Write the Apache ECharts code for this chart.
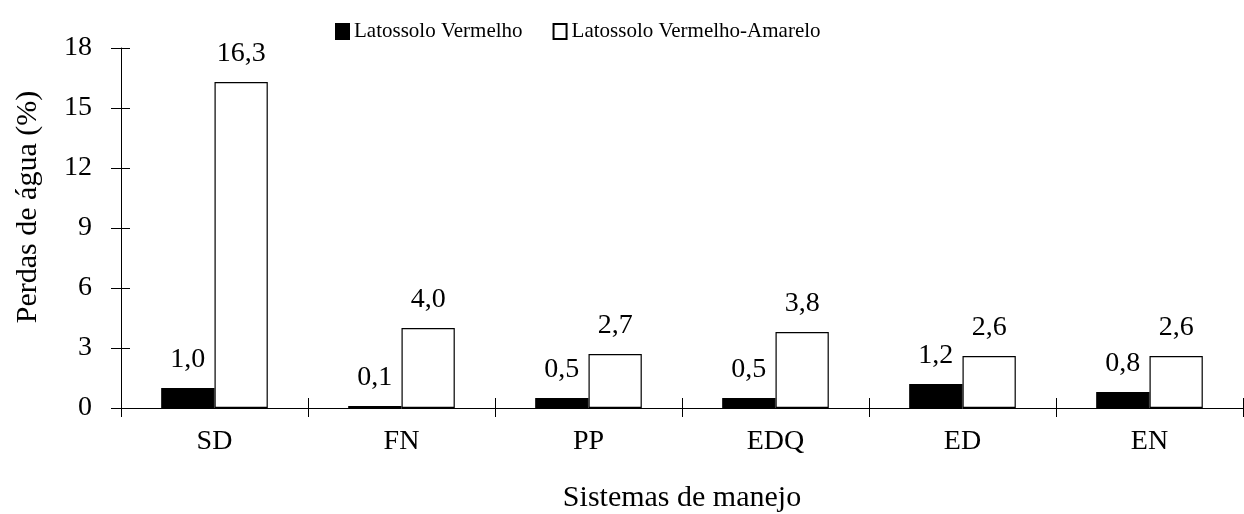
<!DOCTYPE html>
<html>
<head>
<meta charset="utf-8">
<script src="https://cdn.jsdelivr.net/npm/echarts@6/dist/echarts.min.js"></script>
<style>
html,body{margin:0;padding:0;background:#fff;}
#c{width:1244px;height:514px;}
</style>
</head>
<body>
<div id="c"></div>
<script>
const categories = ['SD', 'FN', 'PP', 'EDQ', 'ED', 'EN'];
const seriesNames = ['Latossolo Vermelho', 'Latossolo Vermelho-Amarelo'];
const latossoloVermelho = [1.0, 0.1, 0.5, 0.5, 1.2, 0.8];
const latossoloVermelhoAmarelo = [16.3, 4.0, 2.7, 3.8, 2.6, 2.6];
const yTicks = [0, 3, 6, 9, 12, 15, 18];

const FONT = 'Liberation Serif';
const chart = echarts.init(document.getElementById('c'), null, {renderer: 'canvas'});
const fmt = p => p.value.toFixed(1).replace('.', ',');
const GRID_W = 1244 - 121 - 1;
const GRID_H = 514 - 48 - 106;

chart.setOption({
  animation: false,
  backgroundColor: '#fff',
  textStyle: {fontFamily: FONT, color: '#000'},
  legend: {
    data: seriesNames,
    left: 330, top: 16,
    icon: 'rect', itemWidth: 13, itemHeight: 15, itemGap: 30,
    textStyle: {fontFamily: FONT, fontSize: 21, color: '#000'}
  },
  grid: {left: 121, right: 1, top: 48, bottom: 106, outerBoundsMode: 'none'},
  xAxis: [{
    type: 'category', data: categories, position: 'bottom',
    axisLine: {lineStyle: {color: '#000', width: 1}},
    axisTick: {show: true, length: 9, lineStyle: {color: '#000'}},
    axisLabel: {margin: 20, fontSize: 28, fontFamily: FONT, color: '#000'},
    name: 'Sistemas de manejo', nameLocation: 'middle', nameGap: 75,
    nameTextStyle: {fontSize: 30, fontFamily: FONT, color: '#000'}
  }, {
    type: 'category', data: categories, position: 'top', offset: -GRID_H,
    axisLine: {show: false},
    axisTick: {show: true, inside: false, length: 10, lineStyle: {color: '#000'}},
    axisLabel: {show: false}, splitLine: {show: false}
  }],
  yAxis: [{
    type: 'value', min: yTicks[0], max: yTicks[yTicks.length - 1], interval: 3, position: 'left',
    axisLine: {show: true, lineStyle: {color: '#000', width: 1}},
    axisTick: {show: true, length: 10, lineStyle: {color: '#000'}},
    axisLabel: {margin: 29, fontSize: 28, fontFamily: FONT, color: '#000'},
    splitLine: {show: false},
    name: 'Perdas de água (%)', nameLocation: 'middle', nameGap: 78, nameRotate: 90,
    nameTextStyle: {fontSize: 30, fontFamily: FONT, color: '#000', padding: [0, 0, 0, 42]}
  }, {
    type: 'value', min: yTicks[0], max: yTicks[yTicks.length - 1], interval: 3, position: 'right', offset: -GRID_W,
    axisLine: {show: false},
    axisTick: {show: true, inside: false, length: 9, lineStyle: {color: '#000'}},
    axisLabel: {show: false}, splitLine: {show: false}
  }],
  series: [{
    name: seriesNames[0], type: 'bar', data: latossoloVermelho,
    xAxisIndex: 0, yAxisIndex: 0,
    barGap: '0%', barCategoryGap: '43%',
    itemStyle: {color: '#000', borderColor: '#000', borderWidth: 1.2},
    label: {show: true, position: 'top', distance: 14, formatter: fmt, fontSize: 28, fontFamily: FONT, color: '#000'}
  }, {
    name: seriesNames[1], type: 'bar', data: latossoloVermelhoAmarelo,
    xAxisIndex: 0, yAxisIndex: 0,
    barGap: '0%', barCategoryGap: '43%',
    itemStyle: {color: '#fff', borderColor: '#000', borderWidth: 1.2},
    label: {show: true, position: 'top', distance: 14, formatter: fmt, fontSize: 28, fontFamily: FONT, color: '#000'}
  }]
});
</script>
</body>
</html>
